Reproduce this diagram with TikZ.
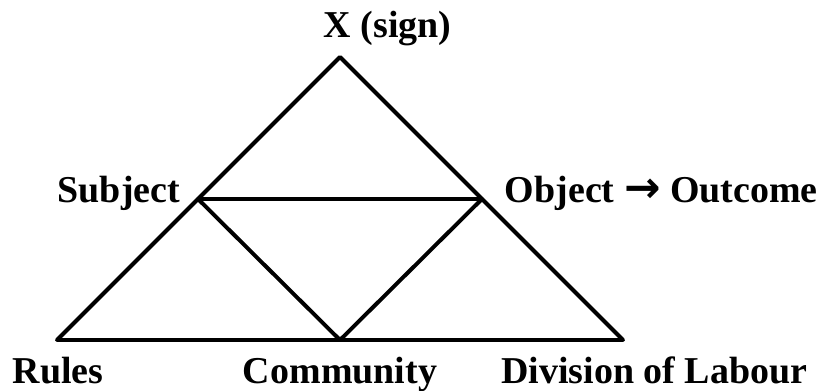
\documentclass[tikz,border=0pt]{standalone}
\usepackage{fontspec}
\setmainfont{Liberation Serif}
\newfontfamily\arrowfont{DejaVu Sans}
\begin{document}
\begin{tikzpicture}[line width=2.8pt, line join=round,
    every node/.style={inner sep=0pt, font=\fontsize{27}{30}\selectfont\bfseries}]
    \useasboundingbox (0,0) rectangle (20.825,9.75);
    \coordinate (sign) at (8.5,8.325);
    \coordinate (subj) at (4.95,4.775);
    \coordinate (obj) at (12.05,4.775);
    \coordinate (rules) at (1.425,1.25);
    \coordinate (comm) at (8.5,1.25);
    \coordinate (div) at (15.575,1.25);
    \draw (rules)--(sign)--(div)--cycle;
    \draw (subj)--(obj)--(comm)--cycle;
    % Labels of the corners
    \node[anchor=base west] (lsign) at (8.05,8.8) {X (sign)};
    \node[anchor=base east] (lsubj) at (4.55,4.7) {Subject};
    \node[anchor=base west] (lobj) at (12.575,4.7) {Object\ {\arrowfont\fontsize{31}{30}\selectfont →}\ Outcome};
    \node[anchor=base] (lrules) at (1.45,0.175) {Rules};
    \node[anchor=base] (lcomm) at (8.5,0.175) {Community};
    \node[anchor=base] (ldiv) at (16.36,0.175) {Division of Labour};
\end{tikzpicture}
\end{document}
